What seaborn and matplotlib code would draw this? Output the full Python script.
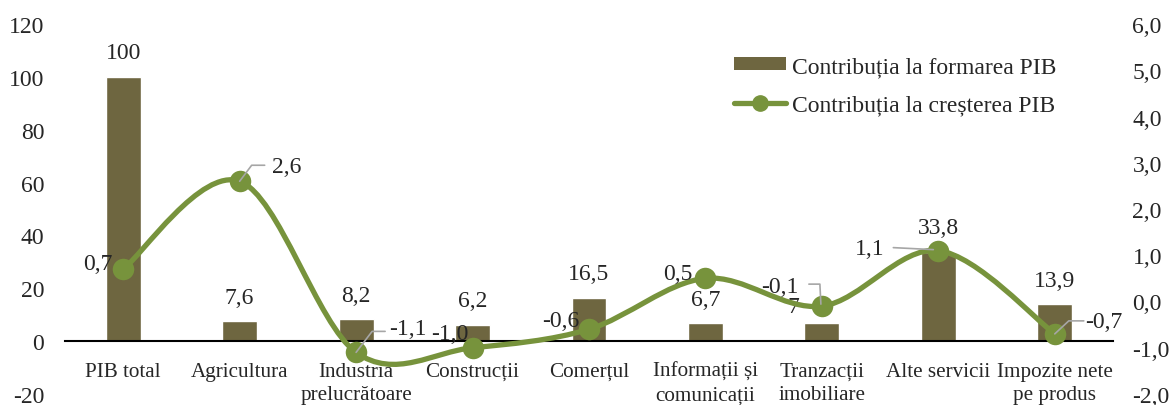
import numpy as np
import matplotlib
matplotlib.use("Agg")
import matplotlib.pyplot as plt
import seaborn as sns
from matplotlib.path import Path
from matplotlib.patches import PathPatch, Patch
from matplotlib.lines import Line2D
from matplotlib.ticker import FuncFormatter

# Date
categorii = ["PIB total", "Agricultura", "Industria\nprelucrătoare", "Construcții",
             "Comerțul", "Informații și\ncomunicații", "Tranzacții\nimobiliare",
             "Alte servicii", "Impozite nete\npe produs"]
formare = [100, 7.6, 8.2, 6.2, 16.5, 6.7, 7, 33.8, 13.9]
formare_txt = ["100", "7,6", "8,2", "6,2", "16,5", "6,7", "7", "33,8", "13,9"]
crestere = [0.7, 2.6, -1.1, -1.0, -0.6, 0.5, -0.1, 1.1, -0.7]
crestere_txt = ["0,7", "2,6", "-1,1", "-1,0", "-0,6", "0,5", "-0,1", "1,1", "-0,7"]

# pozitii etichete (pixeli, fata de punct)
off_bare = [(0, 24)] * 9
off_bare[6] = (-29, 16)
off_linie = [(-25, 6), (47, 15), (52, 24), (-23, 14), (-28, 9), (-28, 5), (-42, 20), (-69, 2), (49, 12)]
# linii de legatura (pixeli, fata de punct)
leaders = {1: [(0, 0), (12, 16), (25, 16)],
           2: [(0, 0), (16, 21), (29, 21)],
           6: [(-13, 22), (-2, 22), (-1, 2)],
           7: [(-45, 3), (-5, 1)],
           8: [(0, 0), (14, 13), (29, 13)]}

c_bar = "#6E6640"
c_line = "#77933C"

sns.set_theme(style="white")
plt.rcParams['font.family'] = ['Liberation Serif', 'DejaVu Serif']
plt.rcParams['axes.unicode_minus'] = False
fs = 17
fs_cat = 15.2

fig = plt.figure(figsize=(11.75, 4.06), dpi=100)
ax = fig.add_axes([65 / 1175, 11 / 406, (1113 - 65) / 1175, 370 / 406])

sns.barplot(x=categorii, y=formare, color=c_bar, saturation=1, width=0.3, ax=ax, zorder=2)
ax.set_xlim(-0.5, 8.5)
ax.set_ylim(-20, 120)
ax.set_yticks(np.arange(-20, 121, 20))
ax.yaxis.set_major_formatter(FuncFormatter(lambda v, p: f"{v:.0f}"))
for s in ["top", "left", "right"]:
    ax.spines[s].set_visible(False)
ax.spines["bottom"].set_position(("data", 0))
ax.spines["bottom"].set_color("black")
ax.spines["bottom"].set_linewidth(1.5)
ax.tick_params(axis="x", length=0, pad=15, labelsize=fs_cat)
ax.tick_params(axis="y", length=0, pad=15, labelsize=fs)
ax.set_xticks(range(len(categorii)))
ax.set_xticklabels(categorii, linespacing=1.3, va="top")
ax.set_xlabel("")
ax.set_ylabel("")

for i, (v, t) in enumerate(zip(formare, formare_txt)):
    ax.annotate(t, xy=(i, v), xytext=off_bare[i], textcoords="offset pixels",
                ha="center", va="center", fontsize=fs, zorder=5)

ax2 = ax.twinx()
ax2.set_ylim(-2, 6)
ax2.set_yticks(np.arange(-2, 7, 1))
ax2.yaxis.set_major_formatter(FuncFormatter(lambda v, p: f"{v:.1f}".replace(".", ",")))
ax2.tick_params(axis="y", length=0, pad=14, labelsize=fs)
for s in ax2.spines.values():
    s.set_visible(False)
ax2.grid(False)
ax.grid(False)

# linie netezita (bezier)
pts = np.column_stack([np.arange(len(crestere)), crestere]).astype(float)
verts = [pts[0]]
codes = [Path.MOVETO]
n = len(pts)
for i in range(n - 1):
    p0 = pts[i - 1] if i > 0 else pts[i]
    p1, p2 = pts[i], pts[i + 1]
    p3 = pts[i + 2] if i + 2 < n else pts[i + 1]
    verts += [p1 + (p2 - p0) / 6, p2 - (p3 - p1) / 6, p2]
    codes += [Path.CURVE4] * 3
ax2.add_patch(PathPatch(Path(verts, codes), facecolor="none", edgecolor=c_line,
                        lw=3.8, capstyle="round", zorder=3))
sns.scatterplot(x=np.arange(n), y=crestere, color=c_line, s=240, edgecolor=c_line,
                linewidth=0, ax=ax2, zorder=4)

fig.canvas.draw()
for i, pl in leaders.items():
    x0, y0 = ax2.transData.transform((i, crestere[i]))
    xs = [x0 + dx for dx, dy in pl]
    ys = [y0 + dy for dx, dy in pl]
    fig.add_artist(Line2D(xs, ys, color="#A6A6A6", lw=1.2, transform=None, zorder=6))

for i, (v, t) in enumerate(zip(crestere, crestere_txt)):
    ax2.annotate(t, xy=(i, v), xytext=off_linie[i], textcoords="offset pixels",
                 ha="center", va="center", fontsize=fs, zorder=7)

handles = [Patch(facecolor=c_bar, edgecolor="none"),
           Line2D([], [], color=c_line, lw=3.8, marker="o", markersize=11)]
ax2.legend(handles, ["Contribuția la formarea PIB", "Contribuția la creșterea PIB"],
           loc="upper left", bbox_to_anchor=(734 / 1175, 1 - 57 / 406),
           bbox_transform=fig.transFigure, frameon=False, fontsize=fs,
           borderpad=0, borderaxespad=0, handlelength=2.2, handleheight=0.5,
           handletextpad=0.25, labelspacing=0.75)

fig.savefig("out.png", dpi=100)
